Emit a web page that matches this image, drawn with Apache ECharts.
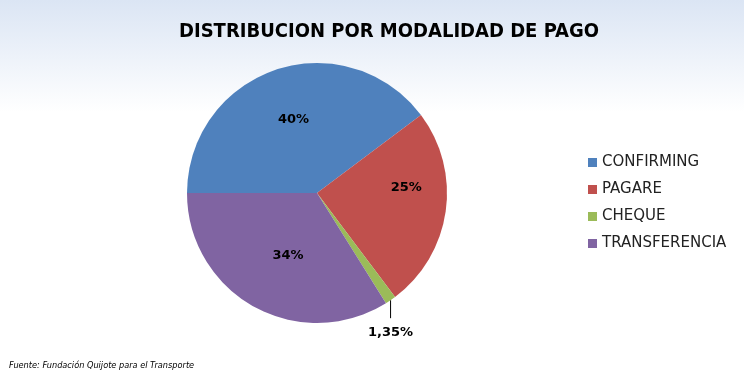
<!DOCTYPE html>
<html>
<head>
<meta charset="utf-8">
<script src="https://cdn.jsdelivr.net/npm/echarts@6/dist/echarts.min.js"></script>
<style>
html, body { margin: 0; padding: 0; }
#chart { width: 744px; height: 375px; }
</style>
</head>
<body>
<div id="chart"></div>
<script>
// modalidades de pago y su reparto (%)
var categorias = ["CONFIRMING", "PAGARE", "CHEQUE", "TRANSFERENCIA"];
var valores = [39.75, 25.0, 1.35, 33.9];
var etiquetas = ["40%", "25%", "1,35%", "34%"];
var colores = ["#4f81bd", "#c0504d", "#9bbb59", "#8064a2"];

var chart = echarts.init(document.getElementById("chart"));

var data = categorias.map(function (c, i) {
    return { name: c, value: valores[i], itemStyle: { color: colores[i] } };
});
// el cheque va fuera con su linea
data[2].label = { position: "outside" };
data[2].labelLine = { show: true, length: 18, length2: 0, lineStyle: { color: "#000", width: 1 } };

// pequeños ajustes de las etiquetas interiores
var ajustes = [[-2, -9], [22, -15], [0, 0], [4, 3]];

chart.setOption({
    backgroundColor: {
        type: "linear", x: 0, y: 0, x2: 0, y2: 1,
        colorStops: [
            { offset: 0, color: "#dbe5f4" },
            { offset: 0.3, color: "#ffffff" },
            { offset: 1, color: "#ffffff" }
        ]
    },
    title: [
        {
            text: "DISTRIBUCION POR MODALIDAD DE PAGO",
            left: 384,
            top: 17,
            textAlign: "center",
            textStyle: { fontFamily: "DejaVu Sans Condensed", fontWeight: "bold", fontSize: 20, color: "#000" }
        },
        {
            text: "Fuente: Fundación Quijote para el Transporte",
            left: 4,
            top: 357,
            textStyle: { fontFamily: "DejaVu Sans", fontStyle: "italic", fontWeight: "normal", fontSize: 8.2, color: "#000" }
        }
    ],
    legend: {
        orient: "vertical",
        left: 583,
        top: 150,
        itemWidth: 9,
        itemHeight: 9,
        itemGap: 12,
        icon: "rect",
        data: categorias,
        textStyle: { fontFamily: "DejaVu Sans", fontSize: 15, color: "#222" }
    },
    series: [
        {
            type: "pie",
            center: [317, 193],
            radius: 130,
            startAngle: 180,
            clockwise: true,
            avoidLabelOverlap: false,
            data: data,
            label: {
                show: true,
                position: "inside",
                formatter: function (p) { return etiquetas[p.dataIndex]; },
                fontFamily: "DejaVu Sans",
                fontWeight: "bold",
                fontSize: 13,
                color: "#000"
            },
            labelLine: { show: false },
            labelLayout: function (p) {
                if (p.dataIndex === 2) {
                    var p0 = p.labelLinePoints[0];
                    var p1 = [p0[0], p0[1] + 18];
                    return {
                        x: p0[0], y: p1[1] + 14,
                        align: "center", verticalAlign: "middle",
                        labelLinePoints: [p0, p1, p1]
                    };
                }
                return { dx: ajustes[p.dataIndex][0], dy: ajustes[p.dataIndex][1] };
            },
            emphasis: { disabled: true }
        }
    ]
});

window.addEventListener("resize", function () {
    chart.resize();
});
</script>
</body>
</html>
